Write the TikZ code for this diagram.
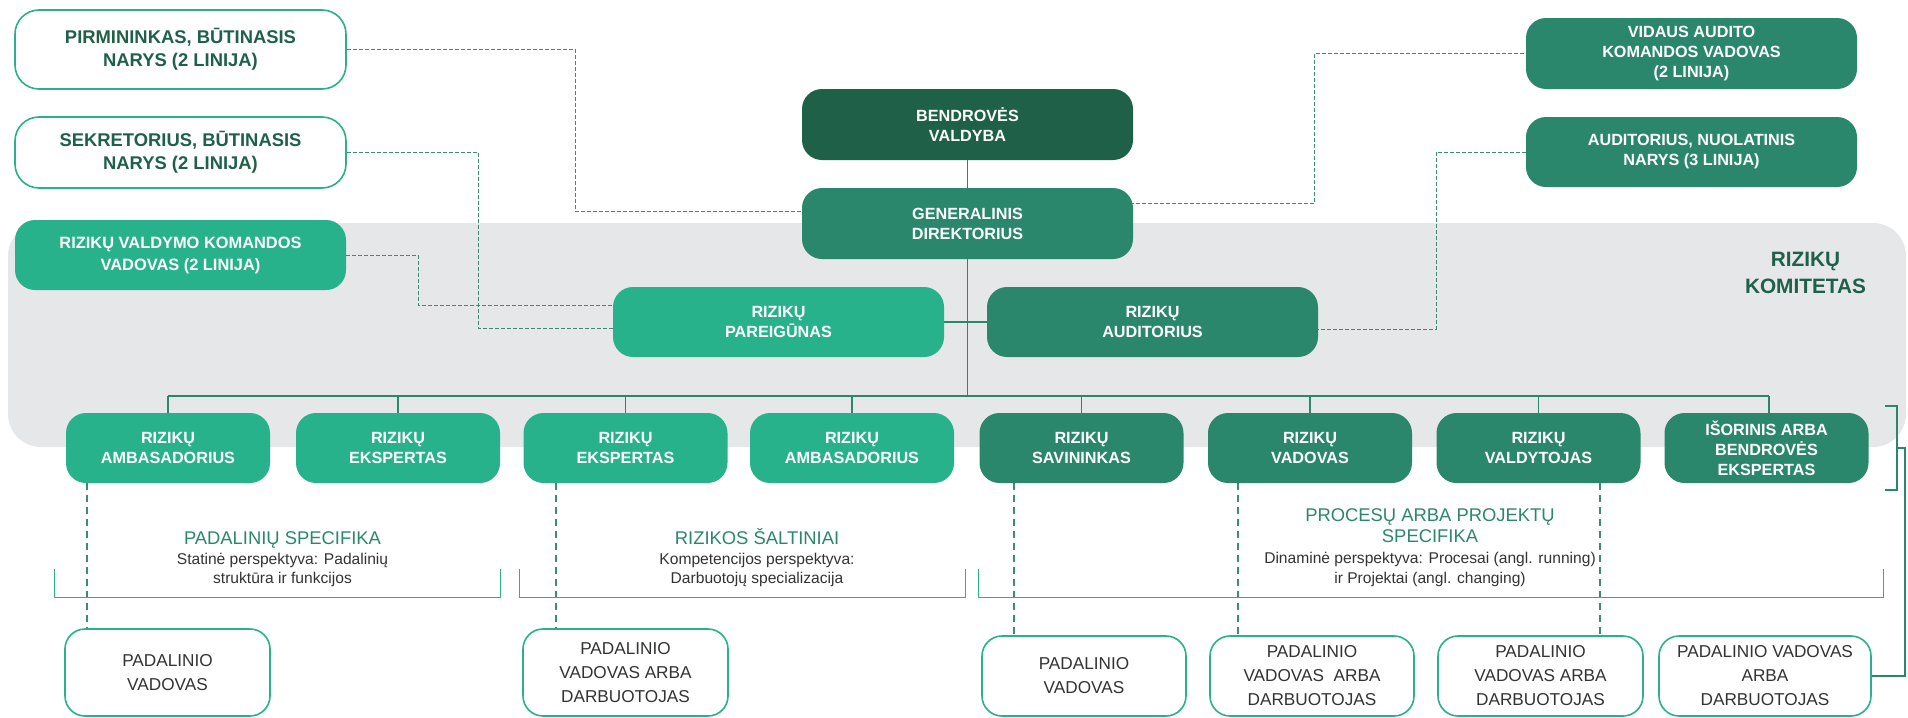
\documentclass[tikz,border=0pt]{standalone}
\usepackage{fontspec}
\setmainfont{Liberation Sans}
\usetikzlibrary{calc}
\definecolor{dkg}{HTML}{1F6049}
\definecolor{mdg}{HTML}{2A876B}
\definecolor{ltg}{HTML}{27B28C}
\definecolor{brd}{HTML}{2BB08A}
\definecolor{bgg}{HTML}{E6E7E9}
\definecolor{dsh}{HTML}{3F8A72}
\definecolor{txg}{HTML}{333333}
\pgfdeclarelayer{bg}\pgfdeclarelayer{ln}\pgfsetlayers{bg,ln,main}
\begin{document}
\begin{tikzpicture}[x=0.5pt,y=-0.5pt,
 box/.style={rounded corners=10pt, inner sep=0pt, align=center, font=\bfseries\fontsize{8.1}{10}\selectfont, text=white},
 dbox/.style={box, fill=dkg},
 mbox/.style={box, fill=mdg},
 lbox/.style={box, fill=ltg},
 wbox/.style={box, rounded corners=12pt, fill=white, draw=brd, line width=0.8pt, text=dkg, font=\bfseries\fontsize{9.2}{11.5}\selectfont},
 obox/.style={box, fill=white, draw=brd, line width=0.8pt, text=txg, font=\fontsize{8.6}{12}\selectfont},
 topbox/.style={minimum width=165.5pt, minimum height=35.5pt},
 rowbox/.style={minimum width=102pt, minimum height=35pt},
 conn/.style={draw=mdg, line width=0.8pt},
 dashA/.style={draw=dsh, line width=0.5pt, dash pattern=on 2pt off 1pt},
 dashB/.style={draw=dsh, line width=0.8pt, dash pattern=on 3.5pt off 2.5pt},
 sect/.style={draw=brd, line width=0.5pt},
 ttl/.style={anchor=base, text=mdg, font=\fontsize{9.2}{11}\selectfont, inner sep=0pt},
 subt/.style={anchor=base, text=txg, font=\fontsize{7.8}{9.75}\selectfont, inner sep=0pt}
]
\useasboundingbox (0,0) rectangle (1908,718);

% top left white boxes
\node[wbox, topbox, minimum height=39.5pt] (pir) at (180.5,49.5) {PIRMININKAS, BŪTINASIS\\NARYS (2 LINIJA)};
\node[wbox, topbox] (sek) at (180.5,152.5) {SEKRETORIUS, BŪTINASIS\\NARYS (2 LINIJA)};
\node[lbox, topbox, minimum height=35pt, font=\bfseries\fontsize{8.2}{11}\selectfont] (rvk) at (180.5,255) {RIZIKŲ VALDYMO KOMANDOS\\VADOVAS (2 LINIJA)};

% centre column
\node[dbox, topbox] (bv) at (967.5,124.5) {BENDROVĖS\\VALDYBA};
\node[mbox, topbox] (gd) at (967.5,223.5) {GENERALINIS\\DIREKTORIUS};

% top right
\node[mbox, topbox] (vid) at (1691.5,53.5) {VIDAUS AUDITO\\KOMANDOS VADOVAS\\(2 LINIJA)};
\node[mbox, topbox, minimum height=35pt] (aud) at (1691.5,152) {AUDITORIUS, NUOLATINIS\\NARYS (3 LINIJA)};

% committee level
\node[lbox, topbox, minimum height=35pt] (par) at (778.5,322) {RIZIKŲ\\PAREIGŪNAS};
\node[mbox, topbox, minimum height=35pt] (rau) at (1152.5,322) {RIZIKŲ\\AUDITORIUS};
\node[text=dkg, align=center, inner sep=0pt, font=\bfseries\fontsize{10.4}{13.5}\selectfont] (kom) at (1805.5,272.5) {RIZIKŲ\\KOMITETAS};

% row of roles
\node[lbox, rowbox] (r1) at (168,448) {RIZIKŲ\\AMBASADORIUS};
\node[lbox, rowbox] (r2) at (398,448) {RIZIKŲ\\EKSPERTAS};
\node[lbox, rowbox] (r3) at (625.5,448) {RIZIKŲ\\EKSPERTAS};
\node[lbox, rowbox] (r4) at (852,448) {RIZIKŲ\\AMBASADORIUS};
\node[mbox, rowbox] (r5) at (1081.5,448) {RIZIKŲ\\SAVININKAS};
\node[mbox, rowbox] (r6) at (1310,448) {RIZIKŲ\\VADOVAS};
\node[mbox, rowbox] (r7) at (1538.5,448) {RIZIKŲ\\VALDYTOJAS};
\node[mbox, rowbox] (r8) at (1766.5,448) {IŠORINIS ARBA\\BENDROVĖS\\EKSPERTAS};

% bottom boxes
\node[obox, minimum width=102.5pt, minimum height=43.5pt] (b1) at (167.5,672.5) {PADALINIO\\VADOVAS};
\node[obox, minimum width=102.5pt, minimum height=43.5pt] (b2) at (625.5,672.5) {PADALINIO\\VADOVAS ARBA\\DARBUOTOJAS};
\node[obox, minimum width=102pt, minimum height=40pt] (b3) at (1084,676) {PADALINIO\\VADOVAS};
\node[obox, minimum width=102pt, minimum height=40pt] (b4) at (1312,676) {PADALINIO\\VADOVAS\ \ ARBA\\DARBUOTOJAS};
\node[obox, minimum width=102.5pt, minimum height=40pt] (b5) at (1540.5,676) {PADALINIO\\VADOVAS ARBA\\DARBUOTOJAS};
\node[obox, minimum width=106pt, minimum height=40pt] (b6) at (1765,676) {PADALINIO VADOVAS\\ARBA\\DARBUOTOJAS};

% section texts
\node[ttl] (t1) at (282.5,544) {PADALINIŲ SPECIFIKA};
\node[subt] (s1a) at (282.5,564) {Statinė perspektyva: Padalinių};
\node[subt] (s1b) at (282.5,583) {struktūra ir funkcijos};
\node[ttl] (t2) at (757,544) {RIZIKOS ŠALTINIAI};
\node[subt] (s2a) at (757,564) {Kompetencijos perspektyva:};
\node[subt] (s2b) at (757,583) {Darbuotojų specializacija};
\node[ttl] (t3a) at (1430,521) {PROCESŲ ARBA PROJEKTŲ};
\node[ttl] (t3b) at (1430,542) {SPECIFIKA};
\node[subt] (s3a) at (1430,563) {Dinaminė perspektyva: Procesai (angl. running)};
\node[subt] (s3b) at (1430,583) {ir Projektai (angl. changing)};

% coordinates
\coordinate (busL) at (168,396);
\coordinate (busR) at (1769,396);
\coordinate (c1) at (575,211);
\coordinate (c2) at (478,328);
\coordinate (c3) at (418,305);
\coordinate (c4) at (1314,203);
\coordinate (c5) at (1436,329);
\coordinate (d1) at (87,0);
\coordinate (d3) at (556,0);
\coordinate (d5) at (1014,0);
\coordinate (d6) at (1238,0);
\coordinate (d7) at (1600,0);
\coordinate (k1) at (1885,406);
\coordinate (k2) at (1897,406);
\coordinate (k3) at (1897,490);
\coordinate (k4) at (1885,490);
\coordinate (k5) at (1897,448);
\coordinate (k6) at (1905,448);

\begin{pgfonlayer}{bg}
\fill[bgg, rounded corners=16.5pt] (8,223) rectangle (1906,447);
\end{pgfonlayer}

\begin{pgfonlayer}{ln}
% solid hierarchy
\draw[conn] (bv) -- (gd);
\draw[conn] (gd.south) -- (gd.south |- busL);
\draw[conn] (par.east) -- (rau.west);
\draw[conn] (busL) -- (busR);
\foreach \n in {r1,r2,r3,r4,r5,r6,r7}{\draw[conn] (\n.north) -- (\n.north |- busL);}
\draw[conn] (busR) -- (busR |- r8.north);
% dashed links
\draw[dashA] (pir.east) -| (c1) -- (c1 -| gd.west);
\draw[dashA] (sek.east) -| (c2) -- (c2 -| par.west);
\draw[dashA] (rvk.east) -| (c3) -- (c3 -| par.west);
\draw[dashA] (c4 -| gd.center) -- (c4) |- (vid.west);
\draw[dashA] (aud.west) -| (c5) -- (c5 -| rau.center);
% role to unit dashed
\draw[dashB] (d1 |- r1.south) -- (d1 |- b1.north);
\draw[dashB] (d3 |- r3.south) -- (d3 |- b2.north);
\draw[dashB] (d5 |- r5.south) -- (d5 |- b3.north);
\draw[dashB] (d6 |- r6.south) -- (d6 |- b4.north);
\draw[dashB] (d7 |- r7.south) -- (d7 |- b5.north);
% right bracket
\draw[conn] (k1) -- (k2) -- (k3) -- (k4);
\draw[conn] (k5) -- (k6) |- (b6.east);
% section brackets
\draw[sect] (54,569) |- (500,597) -- (500,569);
\draw[sect] (519,569) |- (965,597) -- (965,569);
\draw[sect] (978,569) |- (1883,597) -- (1883,569);
\end{pgfonlayer}
\end{tikzpicture}
\end{document}
